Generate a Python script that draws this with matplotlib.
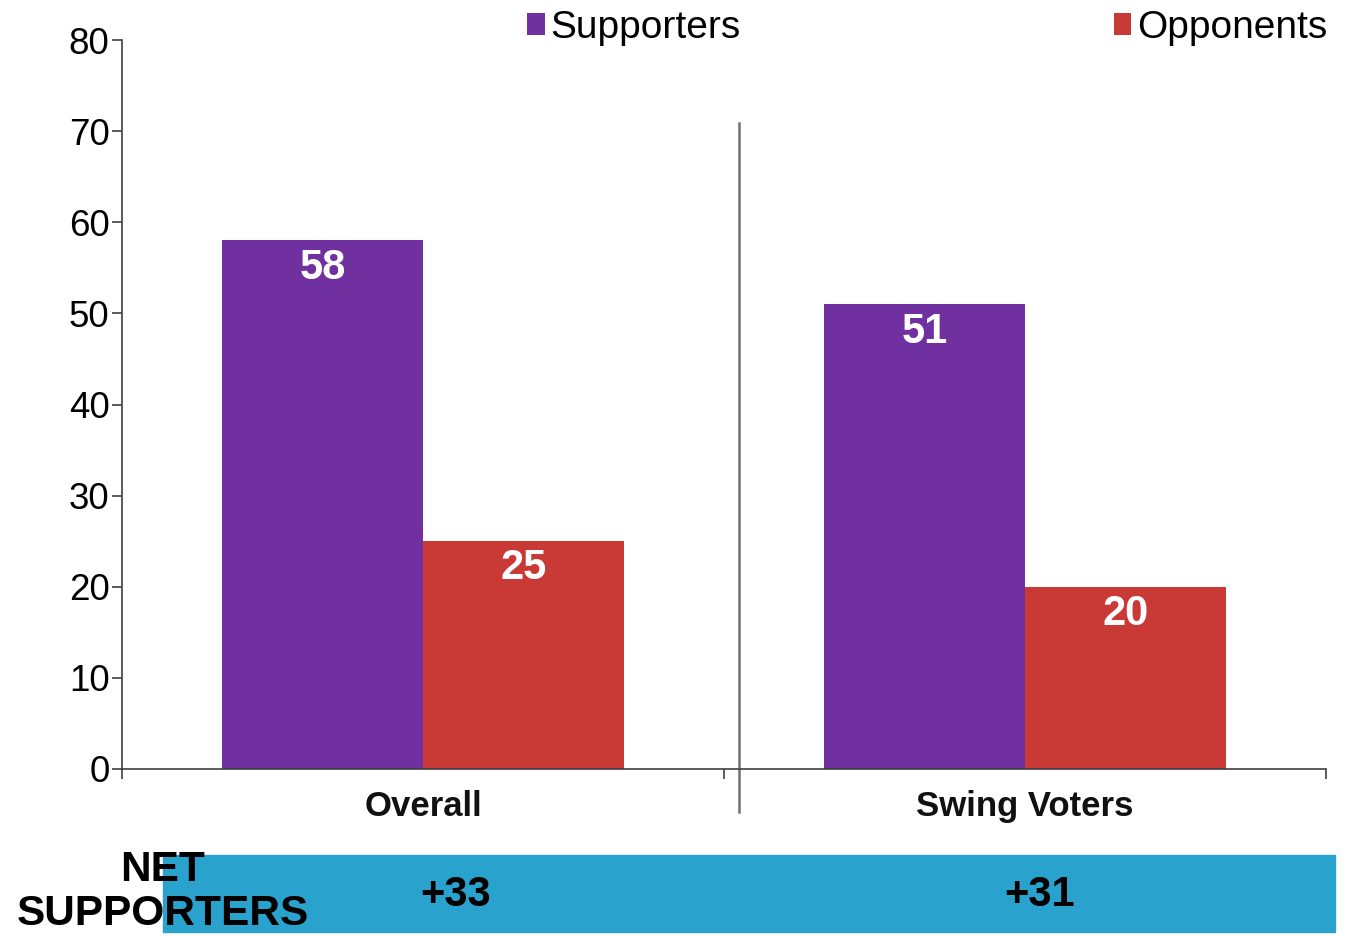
import numpy as np
import matplotlib.pyplot as plt
from matplotlib.patches import Rectangle

groups = ['Overall', 'Swing Voters']
supporters = [58, 51]
opponents = [25, 20]
net = [s - o for s, o in zip(supporters, opponents)]

purple = '#7030A0'
red = '#C93A37'
blue = '#29A3CD'

plt.rcParams['font.family'] = ['Liberation Sans', 'DejaVu Sans']

fig = plt.figure(figsize=(13.49, 9.36), dpi=100)
ax = fig.add_axes([122 / 1349, 167 / 936, (1326 - 122) / 1349, (896 - 167) / 936])

x = np.arange(len(groups))
w = 1 / 3
b1 = ax.bar(x - w / 2, supporters, w, color=purple, label='Supporters')
b2 = ax.bar(x + w / 2, opponents, w, color=red, label='Opponents')

for bars, vals in ((b1, supporters), (b2, opponents)):
    for r, v in zip(bars, vals):
        ax.text(r.get_x() + r.get_width() / 2, v - 0.8, str(v), ha='center', va='top',
                color='white', fontsize=30, fontweight='bold')

ax.set_xlim(-0.5, 1.5)
ax.set_ylim(0, 80)
ax.set_yticks(range(0, 81, 10))
ax.tick_params(axis='y', labelsize=26.5, length=7, width=1.2, color='#404040', pad=2)
ax.set_xticks([-0.5, 0.5, 1.5])
ax.set_xticklabels([])
ax.tick_params(axis='x', length=7, width=1.2, color='#404040')
for i, g in enumerate(groups):
    ax.text(i, -2.25, g, ha='center', va='top', fontsize=25, fontweight='bold', color='#111111')

for s in ('top', 'right'):
    ax.spines[s].set_visible(False)
for s in ('left', 'bottom'):
    ax.spines[s].set_color('#404040')
    ax.spines[s].set_linewidth(1.2)

# divider between the two groups
ax.plot([0.525, 0.525], [70.9, -4.7], color='#707070', lw=1.8, clip_on=False)

ax.legend(loc='center left', bbox_to_anchor=(527 / 1349, 1 - 28 / 936), bbox_transform=fig.transFigure,
          ncol=2, frameon=False, fontsize=28, handlelength=0.45, handleheight=0.5,
          handletextpad=0.15, columnspacing=9.6, borderpad=0, borderaxespad=0)

# net supporters band
fig.patches.append(Rectangle((163 / 1349, 4 / 936), (1335 - 163) / 1349, 77 / 936,
                             transform=fig.transFigure, color=blue, zorder=0))
for xp, v in zip([456, 1040], net):
    fig.text(xp / 1349, 1 - 895 / 936, f'+{v}', ha='center', va='center',
             fontsize=30, fontweight='bold')
fig.text(163 / 1349, 1 - 892 / 936, 'NET\nSUPPORTERS', ha='center', va='center',
         fontsize=30.5, fontweight='bold', linespacing=1.12)

fig.savefig('out.png', dpi=100)
